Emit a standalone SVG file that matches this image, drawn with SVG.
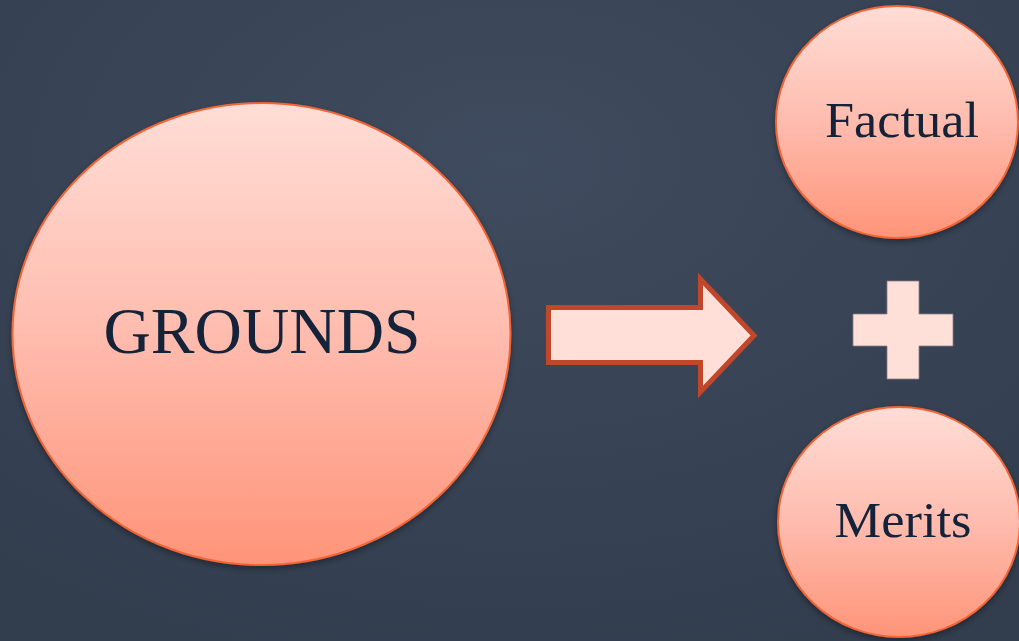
<svg xmlns="http://www.w3.org/2000/svg" width="1019" height="641" viewBox="0 0 1019 641">
<defs>
<radialGradient id="bg" cx="50%" cy="25%" r="80%">
<stop offset="0" stop-color="#3f4b5e"/>
<stop offset="1" stop-color="#323d4e"/>
</radialGradient>
<linearGradient id="fill" x1="0" y1="0" x2="0" y2="1">
<stop offset="0" stop-color="#ffddd6"/>
<stop offset="0.5" stop-color="#ffbcae"/>
<stop offset="1" stop-color="#ff9479"/>
</linearGradient>
<filter id="sh" x="-10%" y="-10%" width="120%" height="125%">
<feDropShadow dx="0" dy="3" stdDeviation="3" flood-color="#000" flood-opacity="0.35"/>
</filter>
<style>
.c{fill:url(#fill);stroke:#f46535;stroke-width:2;filter:url(#sh)}
.t{font-family:"Liberation Serif","DejaVu Serif",serif;fill:#14233a;text-anchor:middle}
</style>
</defs>
<rect width="1019" height="641" fill="url(#bg)"/>
<g id="grounds">
<ellipse class="c" cx="261.5" cy="334" rx="249" ry="231"/>
<text class="t" x="262" y="353" font-size="66" textLength="317" lengthAdjust="spacingAndGlyphs">GROUNDS</text>
</g>
<g id="connectors">
<path d="M548.5,307.5 H700.5 V279 L754,335.5 L700.5,392 V362.5 H548.5 Z" fill="#ffdfd8" stroke="#c0472a" stroke-width="5" stroke-linejoin="miter"/>
</g>
<g id="factual">
<ellipse class="c" cx="897" cy="122" rx="121" ry="116"/>
<text class="t" x="902" y="137" font-size="51" textLength="154" lengthAdjust="spacingAndGlyphs">Factual</text>
</g>
<g id="plus">
<path d="M887,281 H919 V314 H953 V346 H919 V379 H887 V346 H853 V314 H887 Z" fill="#ffe0d9" stroke="#8a7f86" stroke-width="0.8"/>
</g>
<g id="merits">
<ellipse class="c" cx="899" cy="522" rx="121" ry="115"/>
<text class="t" x="903" y="537" font-size="50" textLength="137" lengthAdjust="spacingAndGlyphs">Merits</text>
</g>
</svg>
